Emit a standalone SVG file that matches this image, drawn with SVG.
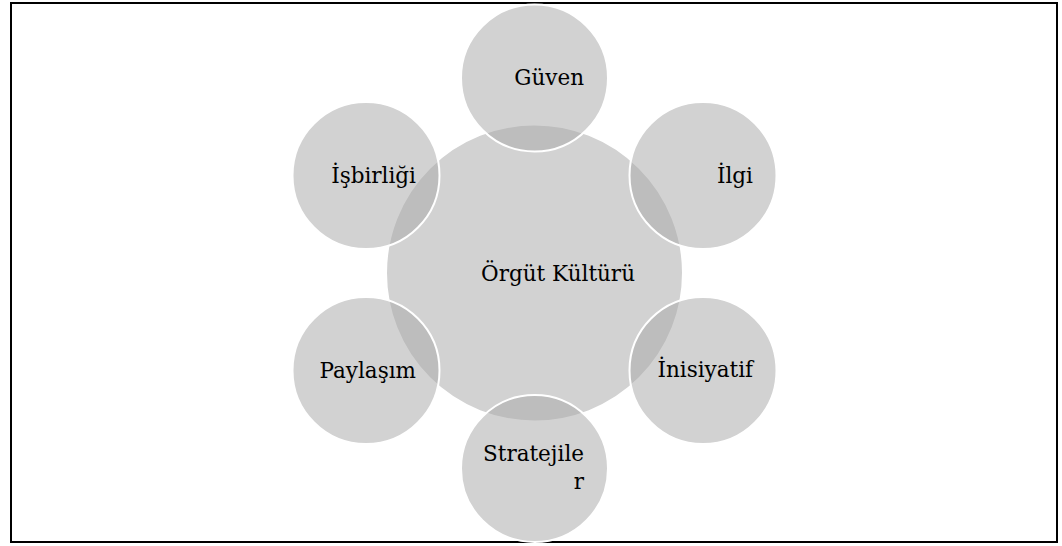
<svg xmlns="http://www.w3.org/2000/svg" width="1062" height="546" viewBox="0 0 1062 546">
<style>
.frame{fill:#ffffff;stroke:#000000;stroke-width:2}
.center{fill:#d2d2d2;stroke:#ffffff;stroke-width:2}
.sat{fill:#aaaaaa;fill-opacity:0.53;stroke:#ffffff;stroke-width:2}
.lbl{font-family:"DejaVu Serif","Liberation Serif",serif;font-size:21.5px;fill:#000000;text-anchor:end}
</style>
<rect class="frame" x="11" y="3" width="1046" height="539"/>
<g id="node-center">
<circle class="center" cx="534.5" cy="273" r="148.5"/>
<text class="lbl" x="635" y="281">Örgüt Kültürü</text>
</g>
<g id="connectors"></g>
<g id="node-guven">
<circle class="sat" cx="534.5" cy="78" r="73.5"/>
<text class="lbl" x="584" y="85">Güven</text>
</g>
<g id="node-ilgi">
<circle class="sat" cx="703" cy="175.5" r="73.5"/>
<text class="lbl" x="753" y="183">İlgi</text>
</g>
<g id="node-inisiyatif">
<circle class="sat" cx="703" cy="370.5" r="73.5"/>
<text class="lbl" x="753" y="377">İnisiyatif</text>
</g>
<g id="node-stratejiler">
<circle class="sat" cx="534.5" cy="468.5" r="73.5"/>
<text class="lbl" x="584" y="461">Stratejile</text>
<text class="lbl" x="584" y="489">r</text>
</g>
<g id="node-paylasim">
<circle class="sat" cx="366" cy="370.5" r="73.5"/>
<text class="lbl" x="416" y="378">Paylaşım</text>
</g>
<g id="node-isbirligi">
<circle class="sat" cx="366" cy="175.5" r="73.5"/>
<text class="lbl" x="416" y="183">İşbirliği</text>
</g>
</svg>
